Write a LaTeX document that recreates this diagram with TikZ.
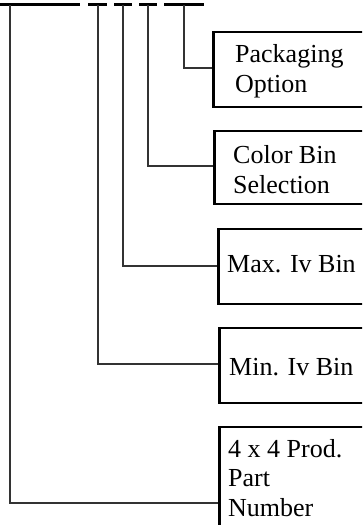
\documentclass[tikz,border=0pt]{standalone}
\usepackage{fontspec}
\setmainfont{Liberation Serif}
\begin{document}
\begin{tikzpicture}[x=1pt,y=-1pt,
  boxstyle/.style={draw=black,line width=2.6pt,rectangle,anchor=west,inner sep=0pt,minimum height=#1},
  txt/.style={anchor=base west,align=left,inner sep=0pt,font=\fontsize{26pt}{29.5pt}\selectfont},
  conn/.style={draw=black!80,line width=1.1pt},
  topbar/.style={draw=black,line width=2.7pt}]
\useasboundingbox (0,0) rectangle (362,525);
\clip (0,0) rectangle (362,525);
% top segments
\draw[topbar] (0,4.7) -- (80,4.7);
\draw[topbar] (88,4.7) -- (107,4.7);
\draw[topbar] (114,4.7) -- (132,4.7);
\draw[topbar] (139,4.7) -- (157,4.7);
\draw[topbar] (164,4.7) -- (204,4.7);
% coordinates at top
\coordinate (t1) at (184,5);
\coordinate (t2) at (148,5);
\coordinate (t3) at (123,5);
\coordinate (t4) at (98,5);
\coordinate (t5) at (10,5);
% boxes
\node[boxstyle=75pt,minimum width=160pt] (b1) at (212,69.5) {};
\node[boxstyle=73pt,minimum width=159pt] (b2) at (213,167.5) {};
\node[boxstyle=75pt,minimum width=155pt] (b3) at (217,266.5) {};
\node[boxstyle=75pt,minimum width=154pt] (b4) at (218,365.5) {};
\node[boxstyle=130pt,minimum width=154pt] (b5) at (218,492) {};
% labels (anchored at the baseline of their last line)
\node[txt] (l1) at (235,92) {Packaging\\Option};
\node[txt] (l2) at (233,193) {Color Bin\\Selection};
\node[txt] (l3) at (227,272) {Max. Iv Bin};
\node[txt] (l4) at (229,375) {Min. Iv Bin};
\node[txt] (l5) at (228,516) {4 x 4 Prod.\\Part\\Number};
% connectors
\draw[conn] (t1) |- ([yshift=1.5pt]b1.west);
\draw[conn] (t2) |- ([yshift=1.5pt]b2.west);
\draw[conn] (t3) |- ([yshift=0.5pt]b3.west);
\draw[conn] (t4) |- ([yshift=1.5pt]b4.west);
\draw[conn] (t5) |- ([yshift=-11pt]b5.west);
\end{tikzpicture}
\end{document}
